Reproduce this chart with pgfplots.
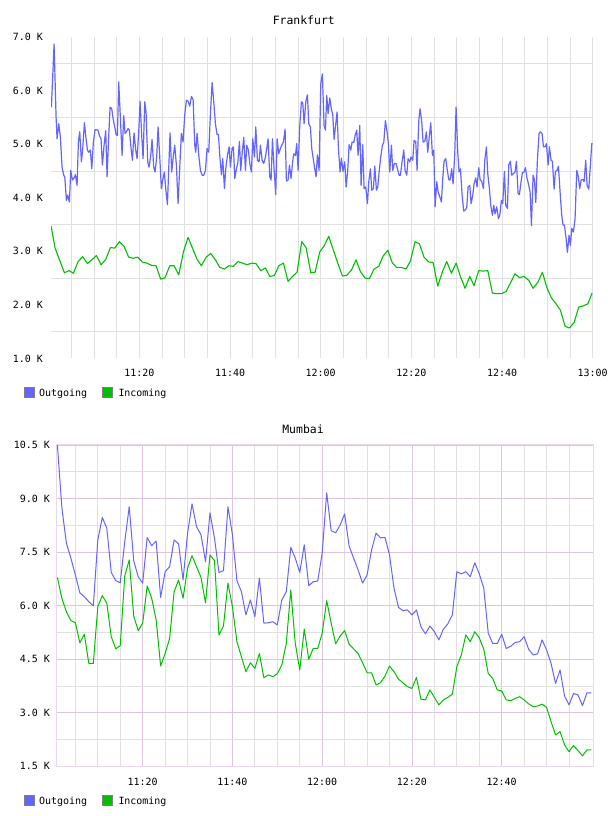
\documentclass[border=0pt]{standalone}
\usepackage{fontspec}
\setmainfont{DejaVu Sans Mono}
\usepackage{pgfplots}
\pgfplotsset{compat=1.18}
\definecolor{outc}{RGB}{100,100,255}
\definecolor{inc}{RGB}{0,192,0}
\definecolor{gridg}{RGB}{224,224,224}
\definecolor{gridp}{RGB}{222,196,222}
\definecolor{framep}{RGB}{236,216,236}
\newcommand{\tfont}{\fontsize{10}{12}\selectfont}
\newcommand{\hfont}{\fontsize{11.5}{13}\selectfont}
\begin{document}
\begin{tikzpicture}[x=1bp,y=1bp]
\useasboundingbox (0,0) rectangle (608,816);
% ---------------- Frankfurt ----------------
\begin{axis}[
  at={(51bp,457.5bp)}, anchor=south west,
  scale only axis, width=541.7bp, height=321.5bp,
  xmin=0.5, xmax=120, ymin=1, ymax=7,
  axis line style={draw=none},
  major tick length=0pt, minor tick length=0pt,
  xtick={20,40,60,80,100,120},
  xticklabels={11:20,11:40,12:00,12:20,12:40,13:00},
  minor xtick={5,10,15,25,30,35,45,50,55,65,70,75,85,90,95,105,110,115},
  ytick={1,2,3,4,5,6,7},
  yticklabels={1.0 K,2.0 K,3.0 K,4.0 K,5.0 K,6.0 K,7.0 K},
  minor ytick={1.5,2.5,3.5,4.5,5.5,6.5},
  xmajorgrids, xminorgrids, yminorgrids,
  major grid style={gridg, line width=0.8bp},
  minor grid style={gridg, line width=0.8bp},
  xticklabel style={font=\tfont, anchor=base, yshift=-18.2bp, inner sep=0pt},
  yticklabel style={font=\tfont, anchor=east, xshift=-8bp, inner sep=0pt},
]
\addplot[outc, line width=1.2bp, line join=round] coordinates {
(0.59,5.69)(1.18,6.87)(1.62,5.51)(1.84,5.10)(2.21,5.38)(2.57,5.13)(2.94,4.57)(3.31,4.42)(3.53,4.39)(3.90,3.95)(4.19,4.05)(4.56,3.92)(4.85,4.51)(5.22,4.33)(5.59,4.37)(5.88,4.43)(6.25,4.23)(6.54,5.04)(6.84,5.23)(7.21,4.67)(7.50,4.92)(7.87,5.40)(8.16,5.16)(8.53,4.89)(8.82,4.85)(9.19,4.89)(9.49,4.54)(9.85,5.04)(10.22,5.27)(10.51,5.27)(10.88,5.26)(11.18,5.16)(11.54,5.10)(11.84,4.61)(12.21,4.98)(12.57,5.25)(12.87,4.39)(13.24,5.16)(13.53,5.69)(13.90,5.66)(14.19,5.48)(14.56,5.32)(14.85,5.18)(15.15,5.16)(15.44,6.16)(15.81,5.48)(16.18,4.79)(16.54,5.53)(16.84,5.20)(17.13,5.23)(17.50,5.29)(17.79,5.26)(18.16,4.92)(18.46,4.70)(18.82,5.21)(19.19,4.89)(19.49,4.73)(19.85,5.23)(20.15,5.80)(20.51,5.16)(20.81,4.73)(21.18,5.79)(21.47,5.60)(21.84,4.67)(22.13,4.57)(22.50,4.79)(22.79,5.09)(23.16,4.57)(23.46,4.48)(23.82,4.76)(24.12,5.32)(24.49,4.76)(24.85,4.17)(25.15,4.33)(25.51,4.48)(25.81,4.17)(26.18,3.87)(26.47,4.54)(26.76,5.21)(27.13,4.48)(27.50,4.79)(27.79,4.98)(28.16,4.61)(28.53,3.89)(28.82,4.42)(29.26,5.20)(29.63,5.04)(30.00,5.54)(30.37,5.82)
(30.74,5.80)(31.11,5.71)(31.48,5.89)(31.85,5.83)(32.21,4.98)(32.43,4.85)(32.73,5.20)(33.10,4.79)(33.46,4.51)(33.83,4.42)(34.20,4.42)(34.57,4.51)(34.93,4.92)(35.30,4.85)(35.67,5.57)(36.04,6.15)(36.40,5.79)(36.77,5.38)(37.14,5.18)(37.43,5.18)(37.73,4.79)(38.10,4.43)(38.39,4.73)(38.76,4.17)(39.05,4.54)(39.42,4.79)(39.79,4.95)(40.08,4.57)(40.45,4.92)(40.74,4.95)(41.04,4.36)(41.40,4.54)(41.70,4.64)(42.07,5.05)(42.36,4.51)(42.73,4.89)(43.02,5.13)(43.39,4.51)(43.68,4.98)(44.05,4.89)(44.35,4.64)(44.71,4.48)(45.01,5.10)(45.38,4.76)(45.67,5.32)(46.04,4.70)(46.40,4.67)(46.70,4.98)(47.07,4.70)(47.43,4.64)(47.73,4.73)(48.10,4.92)(48.39,5.10)(48.76,4.39)(49.05,4.33)(49.35,5.10)(49.71,4.54)(50.08,4.06)(50.38,5.10)(50.74,4.82)(51.11,4.92)(51.40,4.98)(51.77,5.04)(52.14,5.28)(52.43,4.31)(52.80,4.33)(53.10,4.61)(53.46,4.36)(53.76,4.64)(54.05,4.82)(54.42,4.79)(54.71,5.01)(55.01,4.51)(55.38,5.35)(55.74,5.79)(56.04,5.77)(56.33,5.38)(56.70,5.79)(57.07,5.92)(57.36,5.38)(57.73,5.32)(58.02,4.92)(58.39,4.70)(58.98,4.39)(59.27,4.80)(59.64,4.51)(60.01,6.13)(60.37,6.31)
(60.74,5.35)(61.04,5.26)(61.33,5.91)(61.63,5.57)(62.00,5.86)(62.29,5.69)(62.66,5.54)(62.95,5.09)(63.24,5.32)(63.61,5.60)(63.91,4.92)(64.27,4.48)(64.57,4.74)(64.93,4.49)(65.30,4.67)(65.60,4.20)(65.96,4.51)(66.26,4.99)(66.63,4.89)(66.92,5.04)(67.29,5.03)(67.58,5.16)(67.95,5.26)(68.24,4.79)(68.61,5.35)(68.91,4.23)(69.27,4.99)(69.57,4.17)(69.93,4.20)(70.30,3.89)(70.60,4.30)(70.96,4.54)(71.26,4.14)(71.63,4.17)(71.92,4.59)(72.29,4.14)(72.58,4.20)(72.95,4.54)(73.24,4.76)(73.61,4.98)(73.91,5.03)(74.27,5.44)(74.64,5.23)(74.93,5.01)(75.23,4.48)(75.60,4.98)(75.89,4.51)(76.26,4.64)(76.63,4.64)(76.92,4.54)(77.29,4.42)(77.58,4.42)(77.95,4.67)(78.32,4.89)(78.61,4.51)(78.98,4.42)(79.27,4.73)(79.64,4.67)(79.93,4.76)(80.30,4.70)(80.60,5.07)(80.96,5.05)(81.26,4.51)(81.63,5.44)(81.92,5.66)(82.29,5.41)(82.58,5.04)(82.95,5.05)(83.32,5.23)(83.61,4.85)(83.98,5.16)(84.27,5.40)(84.64,4.79)(84.94,4.89)(85.23,3.83)(85.60,4.30)(85.89,4.11)(86.26,4.02)(86.63,3.92)(86.92,4.36)(87.21,4.68)(87.58,4.73)(87.88,4.54)(88.24,4.34)(88.54,4.33)(88.90,4.54)(89.20,4.26)(89.57,4.82)(89.86,5.69)
(90.23,4.85)(90.52,4.48)(90.82,4.54)(91.19,4.05)(91.55,3.75)(91.85,3.77)(92.21,3.81)(92.51,4.20)(92.88,4.23)(93.17,3.89)(93.54,4.05)(93.83,4.26)(94.20,4.37)(94.49,4.20)(94.86,4.56)(95.16,4.34)(95.52,4.30)(95.89,4.17)(96.19,4.70)(96.55,4.95)(96.85,4.45)(97.21,4.17)(97.51,3.86)(97.88,3.67)(98.17,3.86)(98.46,3.70)(98.83,3.83)(99.20,3.61)(99.49,3.67)(99.86,3.95)(100.16,3.89)(100.52,4.49)(100.82,3.86)(101.19,3.80)(101.48,4.61)(101.85,4.68)(102.14,4.42)(102.51,4.45)(102.88,4.48)(103.17,4.68)(103.54,4.08)(103.83,4.06)(104.20,4.30)(104.49,4.47)(104.86,4.48)(105.16,4.56)(105.52,4.36)(105.82,4.26)(106.19,4.11)(106.48,3.48)(106.85,4.42)(107.14,4.34)(107.44,3.91)(107.80,4.70)(108.17,5.20)(108.46,5.23)(108.83,5.20)(109.13,4.95)(109.49,4.95)(109.79,5.01)(110.16,4.61)(110.45,4.95)(110.82,4.70)(111.11,4.68)(111.48,4.16)(111.77,4.49)(112.14,4.51)(112.44,4.59)(112.80,4.11)(113.17,3.67)(113.46,3.49)(113.76,3.49)(114.13,3.24)(114.42,2.98)(114.79,3.30)(115.08,3.11)(115.38,3.43)(115.74,3.36)(116.11,3.61)(116.48,4.51)(116.77,4.42)(117.14,4.17)(117.44,4.33)(117.80,4.34)(118.10,4.30)(118.46,4.70)(118.76,4.23)(119.13,4.16)(119.49,4.61)(119.79,5.01)(120.0,5.01)
};
\addplot[inc, line width=1.1bp, line join=round] coordinates {
(0.52,3.47)(1.40,3.06)(2.51,2.81)(3.46,2.60)(4.49,2.64)(5.45,2.59)(6.48,2.81)(7.51,2.90)(8.53,2.77)(9.49,2.84)(10.52,2.92)(11.55,2.75)(12.58,2.85)(13.61,3.07)(14.56,3.06)(15.59,3.18)(16.62,3.09)(17.65,2.89)(18.61,2.87)(19.64,2.89)(20.67,2.80)(21.62,2.78)(22.65,2.74)(23.68,2.73)(24.71,2.48)(25.67,2.51)(26.70,2.73)(27.65,2.73)(28.68,2.56)(29.71,2.99)(30.74,3.26)(31.70,3.06)(32.73,2.85)(33.68,2.73)(34.71,2.89)(35.74,2.96)(36.70,2.85)(37.73,2.70)(38.76,2.67)(39.71,2.73)(40.74,2.72)(41.77,2.81)(42.73,2.78)(43.76,2.75)(44.79,2.78)(45.74,2.77)(46.77,2.64)(47.80,2.69)(48.76,2.53)(49.79,2.55)(50.74,2.73)(51.77,2.78)(52.80,2.44)(53.75,2.53)(54.78,2.61)(55.81,3.18)(56.77,3.07)(57.80,2.60)(58.76,2.61)(59.79,2.99)(60.74,3.10)(61.77,3.28)(62.80,3.02)(63.76,2.78)(64.79,2.54)(65.74,2.55)(66.77,2.65)(67.80,2.84)(68.76,2.62)(69.79,2.50)(70.74,2.49)(71.77,2.67)(72.80,2.72)(73.76,2.91)(74.79,3.02)(75.82,2.78)(76.77,2.70)(77.80,2.70)(78.83,2.67)(79.79,2.82)(80.82,3.18)(81.77,3.14)(82.80,2.89)(83.83,2.80)(84.79,2.79)(85.82,2.35)(86.85,2.62)(87.80,2.81)(88.83,2.59)(89.86,2.78)(90.82,2.53)(91.85,2.31)(92.88,2.53)(93.83,2.36)(94.86,2.64)(95.82,2.63)(96.85,2.64)(97.88,2.22)(98.83,2.21)(99.86,2.21)(100.89,2.25)(101.85,2.41)(102.88,2.58)(103.83,2.51)(104.86,2.53)(105.89,2.46)(106.85,2.31)(107.88,2.42)(108.91,2.61)(109.86,2.33)(110.89,2.13)(111.92,2.02)(112.88,1.90)(113.91,1.60)(114.86,1.57)(115.89,1.67)(116.92,1.96)(117.88,1.98)(118.91,2.02)(119.86,2.22)
};
\end{axis}
% ---------------- Mumbai ----------------
\begin{axis}[
  at={(56.7bp,49.7bp)}, anchor=south west,
  scale only axis, width=537bp, height=321.3bp,
  xmin=0.84, xmax=120.5, ymin=1.5, ymax=10.5,
  axis line style={framep, line width=1bp},
  major tick length=0pt, minor tick length=0pt,
  xtick={20,40,60,80,100},
  xticklabels={11:20,11:40,12:00,12:20,12:40},
  minor xtick={5,10,15,25,30,35,45,50,55,65,70,75,85,90,95,105,110,115},
  ytick={1.5,3,4.5,6,7.5,9,10.5},
  yticklabels={1.5 K,3.0 K,4.5 K,6.0 K,7.5 K,9.0 K,10.5 K},
  minor ytick={2.25,3.75,5.25,6.75,8.25,9.75},
  xmajorgrids, xminorgrids, ymajorgrids, yminorgrids,
  major grid style={gridp, line width=0.8bp},
  minor grid style={gridg, line width=0.8bp},
  xticklabel style={font=\tfont, anchor=base, yshift=-19.4bp, inner sep=0pt},
  yticklabel style={font=\tfont, anchor=east, xshift=-6.7bp, inner sep=0pt},
]
\addplot[outc, line width=1bp, line join=round] coordinates {
(1,10.5)(2,8.73)(3,7.75)(4,7.33)(5,6.86)(6,6.36)(7,6.25)(8,6.11)(9,5.99)(10,7.84)(11,8.47)(12,8.17)(13,6.93)(14,6.70)(15,6.64)(16,7.79)(17,8.77)(18,7.26)(19,6.81)(20,6.63)(21,7.91)(22,7.68)(23,7.81)(24,6.23)(25,6.95)(26,7.09)(27,7.84)(28,7.73)(29,6.72)(30,8.03)(31,8.85)(32,8.21)(33,7.98)(34,7.23)(35,8.60)(36,7.89)(37,6.93)(38,6.98)(39,8.77)(40,7.98)(41,6.70)(42,6.39)(43,5.74)(44,6.16)(45,5.69)(46,6.77)(47,5.51)(48,5.52)(49,5.55)(50,5.46)(51,6.16)(52,6.39)(53,7.63)(54,7.33)(55,6.93)(56,7.70)(57,6.56)(58,6.67)(59,6.69)(60,7.47)(61,9.16)(62,8.10)(63,8.04)(64,8.26)(65,8.57)(66,7.67)(67,7.33)(68,7.00)(69,6.63)(70,6.86)(71,7.56)(72,8.03)(73,7.90)(74,7.91)(75,7.42)(76,6.49)(77,5.95)(78,5.86)(79,5.88)(80,5.74)(81,5.88)(82,5.41)(83,5.21)(84,5.43)(85,5.27)(86,5.04)(87,5.34)(88,5.49)(89,5.74)(90,6.95)(91,6.89)(92,6.95)(93,6.81)(94,7.20)(95,6.89)(96,6.49)(97,5.23)(98,4.94)(99,4.94)(100,5.20)(101,4.80)(102,4.86)(103,4.97)(104,4.99)(105,5.13)(106,4.78)(107,4.62)(108,4.65)(109,5.04)(110,4.76)(111,4.38)(112,3.82)(113,4.20)(114,3.47)(115,3.22)(116,3.54)(117,3.50)(118,3.20)(119,3.56)(120,3.56)
};
\addplot[inc, line width=1bp, line join=round] coordinates {
(1,6.79)(2,6.20)(3,5.83)(4,5.58)(5,5.52)(6,4.96)(7,5.20)(8,4.38)(9,4.38)(10,5.97)(11,6.28)(12,6.07)(13,5.13)(14,4.79)(15,4.88)(16,6.83)(17,7.28)(18,5.71)(19,5.30)(20,5.51)(21,6.55)(22,6.21)(23,5.60)(24,4.31)(25,4.66)(26,5.08)(27,6.39)(28,6.72)(29,6.21)(30,7.05)(31,7.40)(32,7.09)(33,6.79)(34,6.08)(35,7.42)(36,7.26)(37,5.18)(38,5.43)(39,6.63)(40,5.97)(41,4.99)(42,4.57)(43,4.15)(44,4.40)(45,4.24)(46,4.66)(47,3.98)(48,4.06)(49,4.01)(50,4.09)(51,4.34)(52,4.94)(53,6.44)(54,4.94)(55,4.20)(56,5.34)(57,4.50)(58,4.80)(59,4.80)(60,5.23)(61,6.14)(62,5.51)(63,4.93)(64,5.15)(65,5.30)(66,4.92)(67,4.79)(68,4.66)(69,4.40)(70,4.12)(71,4.12)(72,3.78)(73,3.84)(74,4.03)(75,4.31)(76,4.15)(77,3.94)(78,3.84)(79,3.73)(80,3.68)(81,3.99)(82,3.38)(83,3.36)(84,3.64)(85,3.43)(86,3.22)(87,3.36)(88,3.43)(89,3.52)(90,4.29)(91,4.62)(92,5.18)(93,4.99)(94,5.27)(95,5.10)(96,4.78)(97,4.10)(98,3.96)(99,3.64)(100,3.61)(101,3.36)(102,3.34)(103,3.40)(104,3.45)(105,3.36)(106,3.25)(107,3.17)(108,3.19)(109,3.24)(110,3.15)(111,2.75)(112,2.38)(113,2.47)(114,2.10)(115,1.91)(116,2.08)(117,1.94)(118,1.79)(119,1.96)(120,1.96)
};
\end{axis}
% ---------------- titles and legends ----------------
\node[anchor=base, inner sep=0pt, font=\hfont] at (303.8,791) {Frankfurt};
\node[anchor=base, inner sep=0pt, font=\hfont] at (303,382.7) {Mumbai};
\filldraw[fill=outc, draw=gray, line width=0.8bp] (24.5,418.5) rectangle (34,428.5);
\node[anchor=base west, inner sep=0pt, font=\tfont] at (39,419.3) {Outgoing};
\filldraw[fill=inc, draw=gray, line width=0.8bp] (102.5,418.5) rectangle (112,428.5);
\node[anchor=base west, inner sep=0pt, font=\tfont] at (118.3,419.3) {Incoming};
\filldraw[fill=outc, draw=gray, line width=0.8bp] (24.5,11) rectangle (34,21);
\node[anchor=base west, inner sep=0pt, font=\tfont] at (39,11.7) {Outgoing};
\filldraw[fill=inc, draw=gray, line width=0.8bp] (102.5,11) rectangle (112,21);
\node[anchor=base west, inner sep=0pt, font=\tfont] at (118.3,11.7) {Incoming};
\end{tikzpicture}
\end{document}
